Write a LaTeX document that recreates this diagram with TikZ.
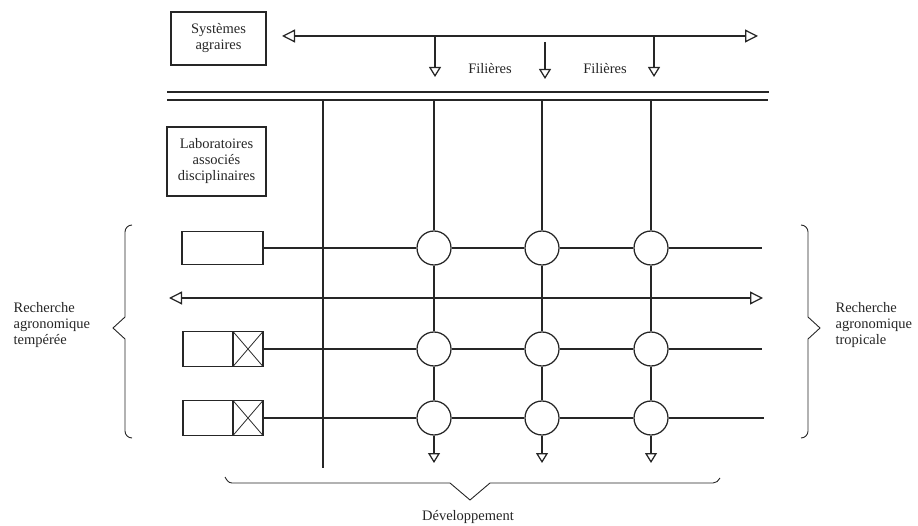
\documentclass[tikz,border=0pt]{standalone}
\usepackage{fontspec}
\setmainfont{Liberation Serif}
\usetikzlibrary{arrows.meta,positioning}

\begin{document}
\begin{tikzpicture}[x=1pt, y=-1pt, line width=1.25pt, color=black!85,
  font=\fontsize{14.5}{16}\selectfont,
  box/.style={draw, align=center, inner sep=0pt},
  xbox/.style={draw, minimum width=30pt, minimum height=35pt, inner sep=0pt,
    path picture={\draw[line width=0.8pt]
      (path picture bounding box.south west) -- (path picture bounding box.north east)
      (path picture bounding box.north west) -- (path picture bounding box.south east);}},
  knot/.style={draw, circle, fill=white, minimum size=34pt, inner sep=0pt},
  arr/.style={-{Triangle[open, length=10pt, width=12pt]}},
  darr/.style={{Triangle[open, length=13pt, width=13pt]}-{Triangle[open, length=13pt, width=13pt]}},
  txt/.style={align=left, inner sep=0pt}]

\useasboundingbox (0,0) rectangle (918,526);

% boxes on the left
\node (sys) [box, minimum width=95pt, minimum height=53pt] at (218.5,38.5) {Systèmes\\agraires};
\node (lab) [box, minimum width=99pt, minimum height=69pt] at (216.5,161.5) {Laboratoires\\associés\\disciplinaires};

\node (ra) [box, minimum width=81pt, minimum height=33pt] at (222.5,248) {};
\node (rb) [box, minimum width=80pt, minimum height=35pt] at (223,349) {};
\node (rbx) [xbox] at (248,349) {};
\node (rc) [box, minimum width=80pt, minimum height=35pt] at (223,418) {};
\node (rcx) [xbox] at (248,418) {};

% top: filieres
\coordinate (tl) at (282,36);
\coordinate (tr) at (758,36);
\draw[darr] (tl) -- (tr);
\coordinate (f1s) at (435,36);  \coordinate (f1e) at (435,77);
\coordinate (f2s) at (545,42);  \coordinate (f2e) at (545,79);
\coordinate (f3s) at (654,36);  \coordinate (f3e) at (654,77);
\draw[arr] (f1s) -- (f1e);
\draw[arr] (f2s) -- (f2e);
\draw[arr] (f3s) -- (f3e);
\node (fil1) at (490,69) {Filières};
\node (fil2) at (605,69) {Filières};

% double line
\coordinate (dl1) at (167,92);  \coordinate (dr1) at (769,92);
\coordinate (dl2) at (167,100); \coordinate (dr2) at (768,100);
\draw (dl1) -- (dr1);
\draw (dl2) -- (dr2);

% vertical lines
\coordinate (v0t) at (323,100); \coordinate (v0b) at (323,468);
\draw (v0t) -- (v0b);
\foreach \c/\x in {1/434, 2/542, 3/651} {
  \coordinate (v\c t) at (\x,100);
  \coordinate (v\c b) at (\x,463);
}

% arrow row
\coordinate (al) at (169,298);
\coordinate (ar) at (763,298);
\draw[darr] (al) -- (ar);

% knots
\foreach \c/\x in {1/434, 2/542, 3/651} {
  \node (k1\c) [knot] at (\x,248) {};
  \node (k2\c) [knot] at (\x,349) {};
  \node (k3\c) [knot] at (\x,418) {};
  \draw (v\c t) -- (k1\c);
  \draw (k1\c) -- (k2\c);
  \draw (k2\c) -- (k3\c);
  \draw[arr] (k3\c) -- (v\c b);
}

% rows
\coordinate (e1) at (762,248);
\coordinate (e2) at (762,349);
\coordinate (e3) at (764,418);
\draw (ra.east) -- (k11) -- (k12) -- (k13) -- (e1);
\draw (rbx.east) -- (k21) -- (k22) -- (k23) -- (e2);
\draw (rcx.east) -- (k31) -- (k32) -- (k33) -- (e3);

% braces
\draw[line width=0.9pt] (132,225) to[out=180, in=90] (125,232) -- (125,317) -- (113,328)
  -- (125,339) -- (125,431) to[out=-90, in=180] (132,438);
\draw[line width=0.9pt] (801,225) to[out=0, in=90] (808,232) -- (808,317) -- (820,328)
  -- (808,339) -- (808,431) to[out=-90, in=0] (801,438);
\draw[line width=0.9pt] (225,477) to[out=-60, in=180] (232,483) -- (450,483) -- (470,500)
  -- (490,483) -- (713,483) to[out=0, in=-120] (720,478);

% labels
\node (temp) [txt, anchor=west] at (13,325) {Recherche\\agronomique\\tempérée};
\node (trop) [txt, anchor=west] at (835,325) {Recherche\\agronomique\\tropicale};
\node (dev) at (468,517) {Développement};

\end{tikzpicture}
\end{document}
